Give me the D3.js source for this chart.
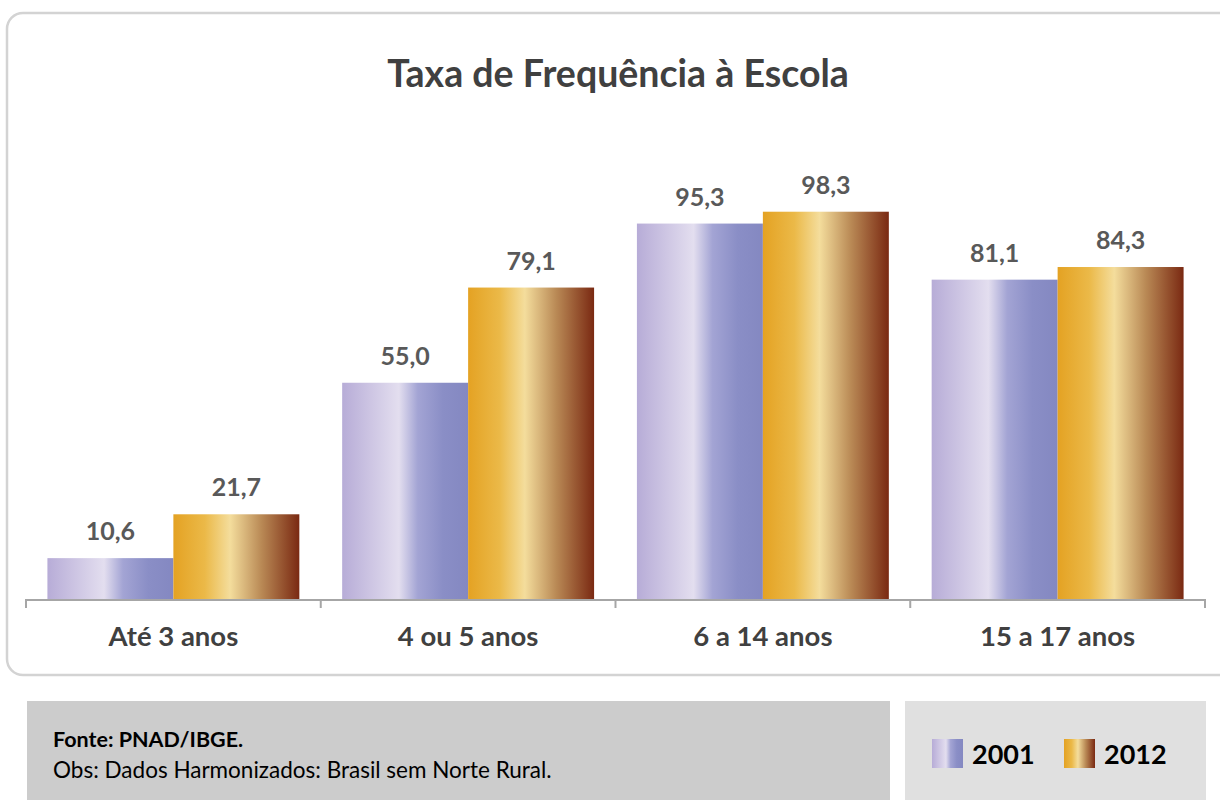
<!DOCTYPE html>
<html>
<head>
<meta charset="utf-8">
<script src="https://cdn.jsdelivr.net/npm/d3@7"></script>
<style>
  body { margin: 0; background: #fff; }
  svg { display: block; font-family: Lato, "Open Sans", sans-serif; }
</style>
</head>
<body>
<script>
// Chart data
var categories = ["Até 3 anos", "4 ou 5 anos", "6 a 14 anos", "15 a 17 anos"];
var seriesNames = ["2001", "2012"];
var values2001 = [10.6, 55.0, 95.3, 81.1];
var values2012 = [21.7, 79.1, 98.3, 84.3];

var width = 1220, height = 800;

var svg = d3.select("body").append("svg")
    .attr("width", width)
    .attr("height", height);

// Gradients for the two series
var defs = svg.append("defs");
var gradStops = {
    g2001: [[0, "#b7acd7"], [0.45, "#e3deef"], [0.6, "#a3a4d4"], [0.8, "#8a8ec6"], [1, "#8488c1"]],
    g2012: [[0, "#e4a223"], [0.25, "#ebb948"], [0.45, "#f4dd9c"], [0.7, "#b98955"], [1, "#7a2912"]]
};
Object.keys(gradStops).forEach(function(id){
    var g = defs.append("linearGradient").attr("id", id)
        .attr("x1", "0%").attr("x2", "100%").attr("y1", "0%").attr("y2", "0%");
    gradStops[id].forEach(function(s){
        g.append("stop").attr("offset", s[0]).attr("stop-color", s[1]);
    });
});

// Chart frame
svg.append("rect")
    .attr("x", 7).attr("y", 13)
    .attr("width", 1230).attr("height", 662)
    .attr("rx", 16).attr("ry", 16)
    .style("fill", "#fff")
    .style("stroke", "#d3d3d3")
    .style("stroke-width", 2.5);

// Title
svg.append("text")
    .attr("x", 618).attr("y", 87)
    .attr("text-anchor", "middle")
    .style("font-size", "37.5px")
    .style("font-weight", "bold")
    .style("fill", "#404040")
    .text("Taxa de Frequência à Escola");

// Scales
var x0 = d3.scaleBand().domain(categories).range([26, 1205]).paddingInner(0).paddingOuter(0);
var x1 = d3.scaleBand().domain(seriesNames).range([0, x0.bandwidth()]).paddingOuter(0.17).paddingInner(0);
var y = d3.scaleLinear().domain([0, 100]).range([600, 205]);

var rows = categories.map(function(c, i){
    return [{cat: c, s: "2001", v: values2001[i]}, {cat: c, s: "2012", v: values2012[i]}];
});

var groups = svg.selectAll(".grp").data(rows).enter().append("g")
    .attr("class", "grp")
    .attr("transform", function(d){ return "translate(" + x0(d[0].cat) + ",0)"; });

groups.selectAll("rect").data(function(d){ return d; }).enter().append("rect")
    .attr("x", function(d){ return x1(d.s); })
    .attr("y", function(d){ return y(d.v); })
    .attr("width", x1.bandwidth())
    .attr("height", function(d){ return y(0) - y(d.v); })
    .style("fill", function(d){ return "url(#g" + d.s + ")"; });

groups.selectAll("text.val").data(function(d){ return d; }).enter().append("text")
    .attr("class", "val")
    .attr("x", function(d){ return x1(d.s) + x1.bandwidth() / 2; })
    .attr("y", function(d){ return y(d.v) - 18; })
    .attr("text-anchor", "middle")
    .style("font-size", "25px")
    .style("font-weight", "bold")
    .style("fill", "#595959")
    .text(function(d){ return d3.format(".1f")(d.v).replace(".", ","); });

// Category axis
var axis = d3.axisBottom(x0).tickSize(0).tickPadding(26);
var ax = svg.append("g").attr("transform", "translate(0,600)").call(axis);
ax.select(".domain").style("stroke", "#a6a6a6").style("stroke-width", 2)
    .attr("d", "M26,8V0H1205V8");
ax.selectAll(".tick text")
    .style("font-size", "27.5px")
    .style("font-weight", "bold")
    .style("fill", "#404040")
    .style("font-family", "Lato, 'Open Sans', sans-serif");
// Tick marks at category boundaries
svg.append("g").selectAll("line").data(categories.slice(1)).enter().append("line")
    .attr("x1", function(d){ return x0(d); }).attr("x2", function(d){ return x0(d); })
    .attr("y1", 600).attr("y2", 608)
    .style("stroke", "#a6a6a6").style("stroke-width", 2);

// Footer note
svg.append("rect").attr("x", 27).attr("y", 701).attr("width", 863).attr("height", 99).style("fill", "#cccccc");
svg.append("text").attr("x", 53).attr("y", 747)
    .style("font-size", "21.5px").style("font-weight", "bold").style("fill", "#000")
    .text("Fonte: PNAD/IBGE.");
svg.append("text").attr("x", 53).attr("y", 778)
    .style("font-size", "22.5px").style("fill", "#000")
    .text("Obs: Dados Harmonizados: Brasil sem Norte Rural.");

// Legend
svg.append("rect").attr("x", 905).attr("y", 701).attr("width", 301).attr("height", 99).style("fill", "#e0e0e0");
var leg = svg.selectAll(".leg").data(seriesNames).enter().append("g")
    .attr("class", "leg")
    .attr("transform", function(d, i){ return "translate(" + (932 + i * 132) + ",739)"; });
leg.append("rect").attr("width", 31).attr("height", 29)
    .style("fill", function(d){ return "url(#g" + d + ")"; });
leg.append("text").attr("x", 40).attr("y", 25)
    .style("font-size", "27px").style("font-weight", "bold").style("fill", "#000")
    .text(function(d){ return d; });
</script>
</body>
</html>
